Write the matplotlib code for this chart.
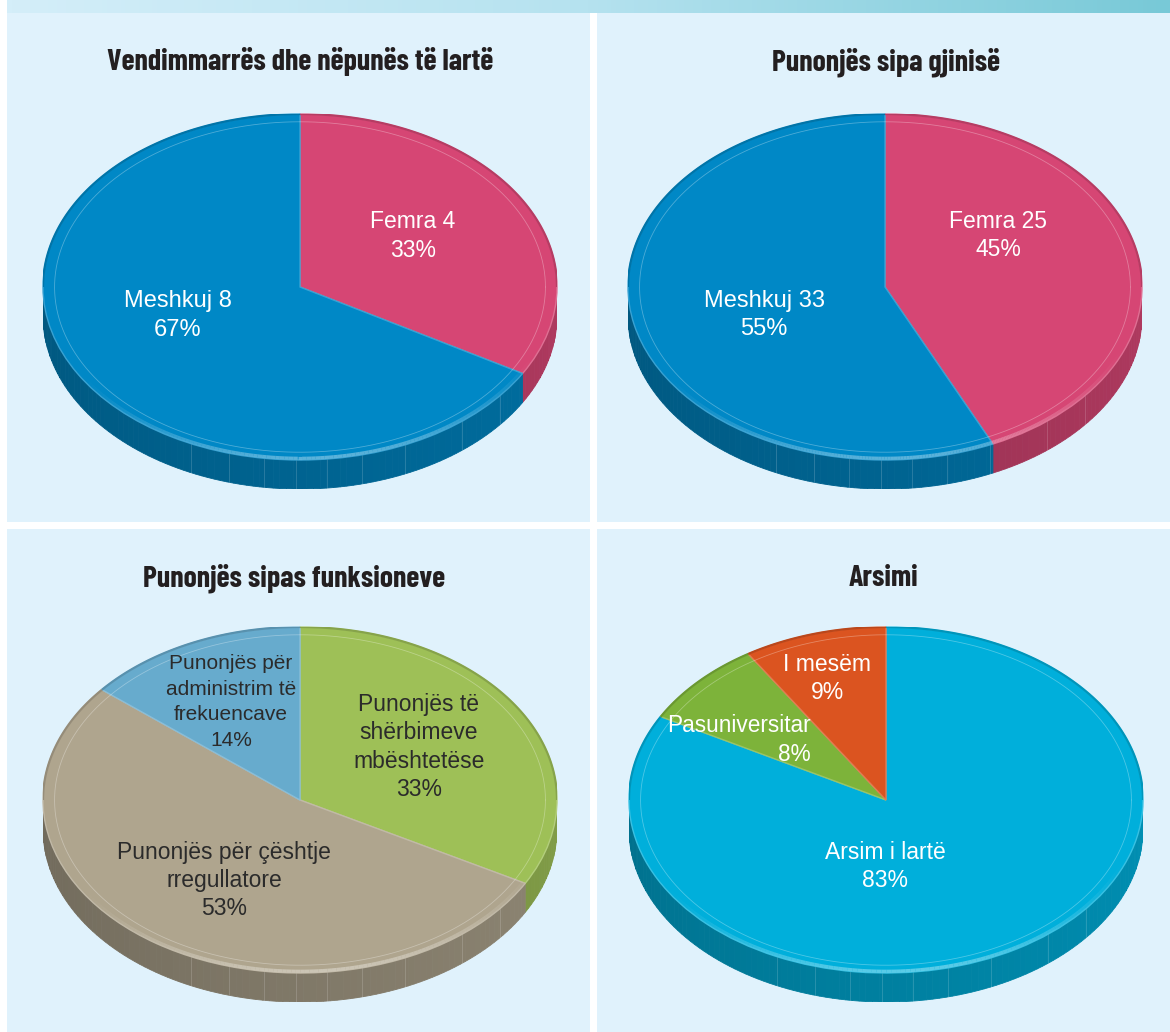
import numpy as np
import matplotlib
matplotlib.use("Agg")
import matplotlib.pyplot as plt
from matplotlib.patches import Rectangle
from matplotlib.collections import LineCollection
import matplotlib.colors as mcolors

W, H = 1170, 1032

# ---------------- data ----------------
titles = ["Vendimmarrës dhe nëpunës të lartë", "Punonjës sipa gjinisë",
          "Punonjës sipas funksioneve", "Arsimi"]

p1_values = [4, 8]
p1_labels = ["Femra 4\n33%", "Meshkuj 8\n67%"]
p1_colors = ["#d64674", "#0088c6"]

p2_values = [25, 33]
p2_labels = ["Femra 25\n45%", "Meshkuj 33\n55%"]
p2_colors = ["#d64674", "#0088c6"]

p3_values = [33, 53, 14]
p3_labels = ["Punonjës të\nshërbimeve\nmbështetëse\n33%",
             "Punonjës për çështje\nrregullatore\n53%",
             "Punonjës për\nadministrim të\nfrekuencave\n14%"]
p3_colors = ["#9ec057", "#afa58e", "#67abcd"]

p4_values = [83, 8, 9]
p4_labels = ["Arsim i lartë\n83%", "Pasuniversitar\n8%", "I mesëm\n9%"]
p4_colors = ["#00afdb", "#7db33a", "#db5420"]

# ---------------- layout / style ----------------
PANEL = "#e0f2fc"
RX, RY, DEPTH = 257, 173, 29
LABEL_FONT = ["Liberation Sans", "DejaVu Sans"]
TITLE_FONT = ["Barlow Condensed", "Archivo Narrow", "Liberation Sans", "DejaVu Sans"]

fig = plt.figure(figsize=(W / 100, H / 100), dpi=100)
fig.patch.set_facecolor("white")


def fx(x):
    return x / W


def fy(y):
    return 1 - y / H


# panels
for (x0, y0, x1, y1) in [(7, 13, 590, 522), (597, 13, 1170, 522),
                         (7, 529, 590, 1032), (597, 529, 1170, 1032)]:
    fig.patches.append(Rectangle((fx(x0), fy(y1)), (x1 - x0) / W, (y1 - y0) / H,
                                 transform=fig.transFigure, fc=PANEL, ec="none", zorder=-5))

# top gradient band
band = fig.add_axes([fx(7), fy(13), (W - 7) / W, 13 / H])
cmap = mcolors.LinearSegmentedColormap.from_list("band", ["#d4eef9", "#b5e2ef", "#78c9d7"])
band.imshow(np.linspace(0, 1, 256)[None, :], aspect="auto", cmap=cmap, extent=(0, 1, 0, 1))
band.axis("off")


def lighten(c, amt):
    c = np.array(mcolors.to_rgb(c))
    return tuple(c + (1 - c) * amt)


def darken(c, f):
    c = np.array(mcolors.to_rgb(c))
    return tuple(c * f)


def side_ranges(t1, t2):
    out = []
    for k in (-1, 0, 1):
        a = max(t1, 180 + 360 * k)
        b = min(t2, 360 + 360 * k)
        if b > a:
            out.append((a, b, k))
    return out


def draw_pie(cx, cy, values, colors):
    d = DEPTH / RY
    ax = fig.add_axes([fx(cx - RX), fy(cy + RY + DEPTH), 2 * RX / W, (2 * RY + DEPTH) / H])
    ax.patch.set_alpha(0)
    wedges, _ = ax.pie(values, colors=colors, startangle=90, counterclock=False,
                       radius=1, wedgeprops=dict(linewidth=0, zorder=3))
    ax.set_aspect("auto")
    ax.set_xlim(-1, 1)
    ax.set_ylim(-1 - d, 1)
    ax.axis("off")
    for w in wedges:
        fc = w.get_facecolor()
        w.set_edgecolor(lighten(fc, 0.22))
        w.set_linewidth(1.0)
        for a, b, k in side_ranges(w.theta1, w.theta2):
            n = max(2, int((b - a) / 1.5) + 1)
            edges = np.linspace(a, b, n)
            for s0, s1 in zip(edges[:-1], edges[1:]):
                mid = ((s0 + s1) / 2) % 360
                f = 0.64 + 0.18 * (mid - 180) / 180
                col = darken(fc, f)
                ang = np.radians(np.linspace(s0, s1, 4))
                xs = np.cos(ang)
                ys = np.sin(ang)
                px = np.concatenate([xs, xs[::-1]])
                py = np.concatenate([ys, ys[::-1] - d])
                ax.fill(px, py, color=col, lw=0.6, ec=col, zorder=1)
            # glossy rim highlight on the front edge, fading out at both ends
            lo = max(a, 210 + 360 * k)
            hi = min(b, 340 + 360 * k)
            if hi > lo:
                tt = np.linspace(lo, hi, 120)
                rad = np.radians(tt)
                pts = np.column_stack([0.99 * np.cos(rad), 0.99 * np.sin(rad)])
                segs = np.stack([pts[:-1], pts[1:]], axis=1)
                tm = ((tt[:-1] + tt[1:]) / 2 - 360 * k - 210) / 130
                alph = 0.85 * np.sin(np.pi * np.clip(tm, 0, 1)) ** 1.5
                hl = lighten(fc, 0.42)
                cols = [(hl[0], hl[1], hl[2], al) for al in alph]
                ax.add_collection(LineCollection(segs, colors=cols, linewidths=2.3,
                                                 zorder=4, capstyle="butt"))
        # darker rim along the back edge
        for a, b, k in side_ranges(w.theta1 + 180, w.theta2 + 180):
            ang = np.radians(np.linspace(a - 180, b - 180, 80))
            ax.plot(np.cos(ang), np.sin(ang), color=darken(fc, 0.85), lw=1.6,
                    zorder=4, solid_capstyle="butt")
    # faint inner ring
    t = np.radians(np.linspace(0, 360, 400))
    ax.plot(0.955 * np.cos(t), 0.955 * np.sin(t), color="white", alpha=0.3, lw=0.6, zorder=5)
    # faint facet lines on the side
    for ang in [245, 254, 262, 269, 276, 284, 294, 309, 321]:
        r = np.radians(ang)
        ax.plot([np.cos(r)] * 2, [np.sin(r), np.sin(r) - d], color="white", alpha=0.18,
                lw=0.6, zorder=2)
    return ax


centers = [(300, 287), (885, 287), (300, 800), (886, 800)]
draw_pie(*centers[0], p1_values, p1_colors)
draw_pie(*centers[1], p2_values, p2_colors)
draw_pie(*centers[2], p3_values, p3_colors)
draw_pie(*centers[3], p4_values, p4_colors)

# titles
for title, (x, y) in zip(titles, [(300, 70.5), (886, 70.5), (294, 586.5), (884, 586.5)]):
    fig.text(fx(x), fy(y), title, ha="center", va="baseline", fontsize=21.5,
             fontweight="bold", color="#231f20", family=TITLE_FONT)


def label(x, y0, step, s, size, color, ha="center"):
    """Place each line of a label on its own baseline (pixel coordinates)."""
    for i, line in enumerate(s.split("\n")):
        fig.text(fx(x), fy(y0 + i * step), line, ha=ha, va="baseline", fontsize=size,
                 color=color, family=LABEL_FONT)


WHITE = "white"
DARK = "#2b2b2b"
label(413, 228, 29, p1_labels[0], 16.5, WHITE)
label(178, 307.5, 28.5, p1_labels[1], 17, WHITE)
label(998, 228, 28, p2_labels[0], 16.5, WHITE)
label(764, 307, 28, p2_labels[1], 17, WHITE)
label(419, 711, 28.3, p3_labels[0], 16.5, DARK)
label(224, 859, 28, p3_labels[1], 16.5, DARK)
label(231, 669, 25.7, p3_labels[2], 15, DARK)
label(885, 859, 28, p4_labels[0], 16.5, WHITE)
label(811, 732, 29, p4_labels[1], 16.3, WHITE, ha="right")
label(827, 671, 28, p4_labels[2], 16.5, WHITE)

fig.savefig("out.png", dpi=100, facecolor="white")
